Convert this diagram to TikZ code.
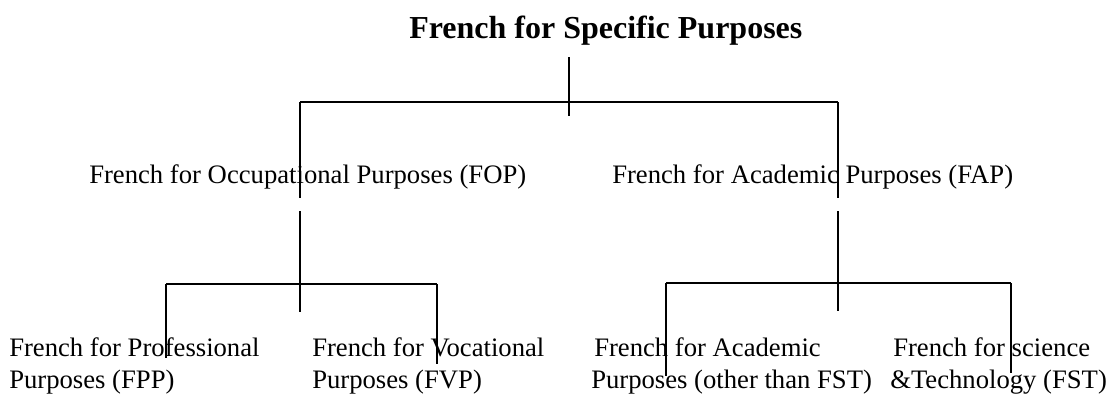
\documentclass[tikz,border=0pt]{standalone}
\usepackage{fontspec}
\setmainfont{Liberation Serif}
\usepackage{tikz}

\begin{document}
\begin{tikzpicture}[x=0.75pt,y=-0.75pt,
    plain text/.style={anchor=base west,inner sep=0pt,font=\fontsize{20}{24}\selectfont},
    leaf text/.style={plain text,align=left},
    tree line/.style={line width=1.1pt}]
		\useasboundingbox (0,0) rectangle (1111,394);

		  % headings
		  \node[anchor=base west,inner sep=0pt,font=\fontsize{24}{29}\selectfont\bfseries] (fsp) at (409,38) {French for Specific Purposes};
		  \node[plain text] (fop) at (89,183) {French for Occupational Purposes (FOP)};
		  \node[plain text] (fap) at (612,183) {French for Academic Purposes (FAP)};

		  % leaves (base is the second line)
		  \node[leaf text] (fpp) at (9,388) {French for Professional\\Purposes (FPP)};
		  \node[leaf text] (fvp) at (312,388) {French for Vocational\\Purposes (FVP)};
		  \node[leaf text] (fac) at (591,388) {\hspace{2.25pt}French for Academic\\Purposes (other than FST)};
		  \node[leaf text] (fst) at (890,388) {\hspace{2.25pt}French for science\\\&Technology (FST)};

		  % junction points
		  \coordinate (fsp stub top) at (569,57);
		  \coordinate (fsp stub end) at (569,116);
		  \coordinate (fsp left) at (300,102);
		  \coordinate (fsp right) at (838,102);
		  \coordinate (fop upper end) at (300,198);
		  \coordinate (fap upper end) at (838,198);
		  \coordinate (fop stub top) at (300,211);
		  \coordinate (fop stub end) at (300,312);
		  \coordinate (fap stub top) at (838,211);
		  \coordinate (fap stub end) at (838,311);
		  \coordinate (fop left) at (166,284);
		  \coordinate (fop right) at (437,284);
		  \coordinate (fap left) at (666,283);
		  \coordinate (fap right) at (1011,283);
		  \coordinate (fpp end) at (166,358);
		  \coordinate (fvp end) at (437,364);
		  \coordinate (fac end) at (666,376);
		  \coordinate (fst end) at (1011,373);

		  % first split
			\draw[tree line] (fsp stub top) -- (fsp stub end);
			\draw[tree line] (fsp left) -- (fsp right);
			\draw[tree line] (fsp left) -- (fop upper end);
			\draw[tree line] (fsp right) -- (fap upper end);

		  % occupational split
			\draw[tree line] (fop stub top) -- (fop stub end);
			\draw[tree line] (fop left) -- (fop right);
			\draw[tree line] (fop left) -- (fpp end);
			\draw[tree line] (fop right) -- (fvp end);

		  % academic split
			\draw[tree line] (fap stub top) -- (fap stub end);
			\draw[tree line] (fap left) -- (fap right);
			\draw[tree line] (fap left) -- (fac end);
			\draw[tree line] (fap right) -- (fst end);

    \end{tikzpicture}
\end{document}
